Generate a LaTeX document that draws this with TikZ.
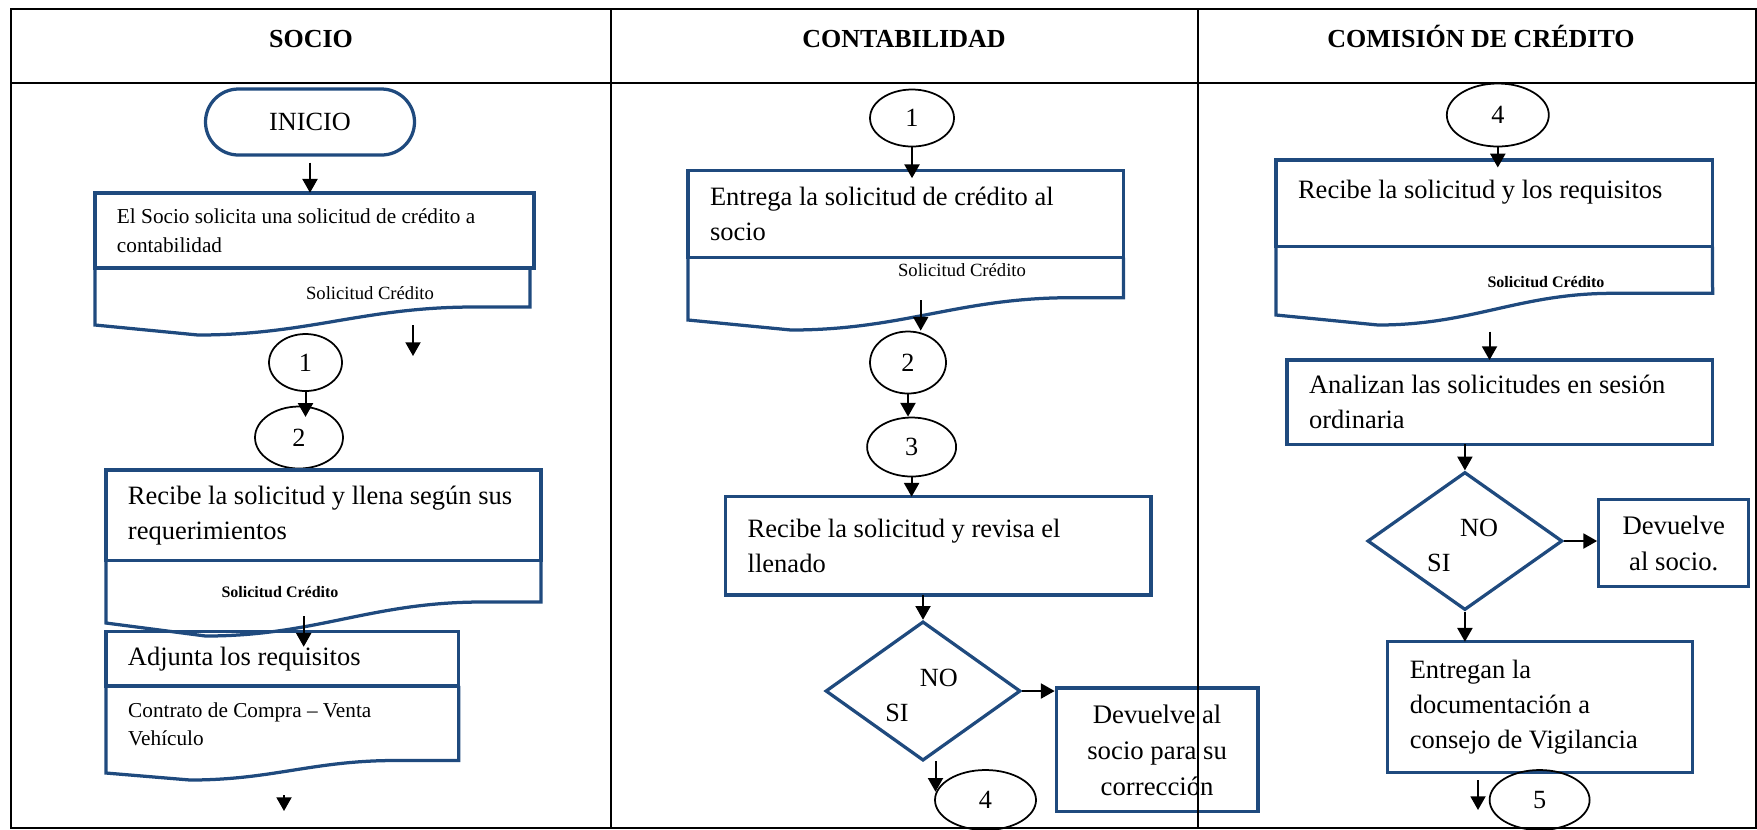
\documentclass[tikz,border=0pt]{standalone}
\usepackage{fontspec}
\setmainfont{Liberation Serif}
\usetikzlibrary{positioning,arrows.meta,shapes.geometric}
\definecolor{boxblue}{HTML}{1F4A7E}

\begin{document}
\begin{tikzpicture}[x=0.4pt, y=-0.4pt,
    lane/.style={draw, line width=0.8pt},
    head/.style={anchor=base, font=\fontsize{10.4pt}{12pt}\selectfont\bfseries},
    terminal/.style={rectangle, rounded corners=13.2pt, draw=boxblue, line width=1.3pt, font=\fontsize{10.5pt}{12pt}\selectfont},
    procbox/.style={rectangle, draw=boxblue, line width=1.3pt, outer sep=0pt, inner xsep=8.8pt, inner ysep=0pt, align=flush left, font=\fontsize{10.6pt}{14pt}\selectfont},
    retbox/.style={rectangle, draw=boxblue, line width=1.3pt, inner sep=0pt, align=center, font=\fontsize{10.7pt}{14.4pt}\selectfont},
    docfoot/.style={draw=boxblue, line width=1.3pt},
    doclabel/.style={inner sep=0pt, font=\fontsize{7.45pt}{9pt}\selectfont},
    doclabelb/.style={inner sep=0pt, font=\fontsize{6.4pt}{8pt}\selectfont\bfseries},
    link/.style={ellipse, draw, line width=0.7pt, inner sep=0pt, font=\fontsize{10.5pt}{12pt}\selectfont},
    decision/.style={diamond, draw=boxblue, line width=1.3pt, inner sep=0pt},
    answer/.style={inner sep=0pt, font=\fontsize{10.5pt}{12pt}\selectfont},
    arrow/.style={-{Triangle[width=6pt,length=5.5pt]}, line width=0.8pt}
]
\useasboundingbox (0,0) rectangle (1757,829);

% headers
\node[head] (hsocio) at (311,47.3)  {SOCIO};
\node[head] (hconta) at (904,47.3)  {CONTABILIDAD};
\node[head] (hcomis) at (1481,47.3) {COMISIÓN DE CRÉDITO};

% SOCIO
\node[terminal, minimum width=83.6pt, minimum height=26.4pt] (inicio) at (310,122) {INICIO};
\node[procbox, line width=1.6pt, text width=158pt, minimum height=30.1pt, font=\fontsize{8.5pt}{11.6pt}\selectfont] (solic) at (314.5,230.35) {El Socio solicita una solicitud de crédito a\\contabilidad};
\draw[docfoot] (solic.south west) -- (95,325) -- (198,335) .. controls (308,335) and (364,307) .. (474,307) -- (530,307) -- (530,268);
\node[doclabel] (sol1) at (370,293) {Solicitud Crédito};
\draw[arrow, shorten <=2.4pt] (inicio.south) -- (solic.north -| inicio.south);

\coordinate (solfoot) at (413,325);
\coordinate (solend) at (413,356);
\draw[arrow] (solfoot) -- (solend);

\node[link, minimum width=29.2pt, minimum height=22.8pt] (c1a) at (305.5,362.5) {1};
\node[link, minimum width=35.2pt, minimum height=24.8pt] (c2a) at (299,437.5) {2};
\draw[arrow, shorten >=-4.5pt] (c1a.south) -- (c1a.south |- c2a.north);

\node[procbox, text width=156.4pt, minimum height=36.3pt] (llena) at (323.5,515.35) {Recibe la solicitud y llena según sus\\requerimientos};
\draw[docfoot] (llena.south west) -- (106,623) -- (205.6,636) .. controls (316,636) and (371,602) .. (482,602) -- (541,602) -- (llena.south east);
\node[doclabelb] (sol2) at (280,592) {Solicitud Crédito};

\node[procbox, text width=123.5pt, minimum height=21.7pt] (adjunta) at (282.35,658.85) {Adjunta los requisitos};
\draw[docfoot] (adjunta.south west) -- (106,773) -- (190,780) .. controls (272,780) and (313,760.5) .. (395,760.5) -- (458.7,760.5) -- (adjunta.south east);
\node[inner sep=0pt, anchor=west, align=left, font=\fontsize{8.5pt}{11.2pt}\selectfont] (contrato) at (127.7,724) {Contrato de Compra -- Venta\\Vehículo};

\coordinate (llenafoot) at (303.7,616);
\draw[arrow, shorten >=-6pt] (llenafoot) -- (llenafoot |- adjunta.north);
\coordinate (adjfoot) at (284,795);
\coordinate (adjend) at (284,811);
\draw[arrow] (adjfoot) -- (adjend);

% CONTABILIDAD
\node[link, minimum width=33.6pt, minimum height=22.8pt] (c1b) at (912,118) {1};
\node[procbox, text width=156.6pt, minimum height=34.8pt] (entrega) at (905.75,214.2) {Entrega la solicitud de crédito al\\socio};
\draw[docfoot] (entrega.south west) -- (688,320) -- (791,330) .. controls (903,330) and (959,297.7) .. (1070.7,297.7) -- (1123.5,297.7) -- (entrega.south east);
\node[doclabel] (sol4) at (962,270) {Solicitud Crédito};
\draw[arrow, shorten >=-3pt] (c1b.south) -- (c1b.south |- entrega.north);

\node[link, minimum width=30.4pt, minimum height=24.8pt] (c2b) at (908,362.5) {2};
\coordinate (entfoot) at (920.7,300);
\draw[arrow] (entfoot) -- (entfoot |- c2b.north);
\node[link, minimum width=35.6pt, minimum height=23.6pt] (c3b) at (911.6,447) {3};
\draw[arrow] (c2b.south) -- (c2b.south |- c3b.north);

\node[procbox, text width=152.5pt, minimum height=39.3pt] (revisa) at (938.35,545.85) {Recibe la solicitud y revisa el\\llenado};
\draw[arrow] (c3b.south) -- (c3b.south |- revisa.north);

\node[decision, minimum width=78pt, minimum height=55.7pt] (dec1) at (923,691) {};
\node[answer] (no1) at (938.8,678) {NO};
\node[answer] (si1) at (897,713) {SI};
\draw[arrow] (revisa.south -| dec1.north) -- (dec1.north);

\node[retbox, minimum width=80.7pt, minimum height=49.5pt] (dev1) at (1157.15,749.85) {Devuelve al\\socio para su\\corrección};
\draw[arrow] (dec1.east) -- (dec1.east -| dev1.west);

\node[link, minimum width=40.4pt, minimum height=24pt] (c4b) at (985.5,800) {4};
\coordinate (decfoot) at (935.5,761);
\draw[arrow, shorten >=3.3pt] (decfoot) -- (decfoot |- c4b.west);

% COMISION DE CREDITO
\node[link, minimum width=40.8pt, minimum height=25.2pt] (c4c) at (1497.8,115) {4};
\node[procbox, text width=157pt, minimum height=34.7pt] (recibe) at (1494.3,203.35) {Recibe la solicitud y los requisitos\\[-3pt]\mbox{}};
\draw[docfoot] (recibe.south west) -- (1276,315) -- (1378,325) .. controls (1472,325) and (1519,293.3) .. (1613,293.3) -- (1712.6,293.3) -- (recibe.south east);
\node[doclabelb] (sol5) at (1546,281.7) {Solicitud Crédito};
\draw[arrow, shorten >=-3pt] (c4c.south) -- (c4c.south |- recibe.north);

\node[procbox, text width=152.6pt, minimum height=33.7pt] (analiza) at (1499.8,402.15) {Analizan las solicitudes en sesión\\ordinaria};
\coordinate (recfoot) at (1489.5,331.7);
\draw[arrow] (recfoot) -- (recfoot |- analiza.north);

\node[decision, minimum width=78pt, minimum height=55.2pt] (dec2) at (1464.9,541) {};
\node[answer] (no2) at (1479,528) {NO};
\node[answer] (si2) at (1438.8,563) {SI};
\draw[arrow] (analiza.south -| dec2.north) -- (dec2.north);

\node[retbox, minimum width=60pt, minimum height=35pt] (dev2) at (1673.75,543) {Devuelve\\al socio.};
\draw[arrow] (dec2.east) -- (dec2.east -| dev2.west);

\node[procbox, text width=104.4pt, minimum height=52.4pt] (entregan) at (1540.25,707.2) {Entregan la\\documentación a\\consejo de Vigilancia};
\draw[arrow] (dec2.south) -- (dec2.south |- entregan.north);

\coordinate (entgfoot) at (1478,780);
\coordinate (entgend) at (1478,810);
\draw[arrow] (entgfoot) -- (entgend);
\node[link, minimum width=40pt, minimum height=24pt] (c5c) at (1539.6,800) {5};

% table frame
\draw[lane] (11,8.5) rectangle (1756,828);
\draw[lane] (11,83) -- (1756,83);
\draw[lane] (611,8.5) -- (611,828);
\draw[lane] (1197.5,8.5) -- (1197.5,828);
\end{tikzpicture}
\end{document}
